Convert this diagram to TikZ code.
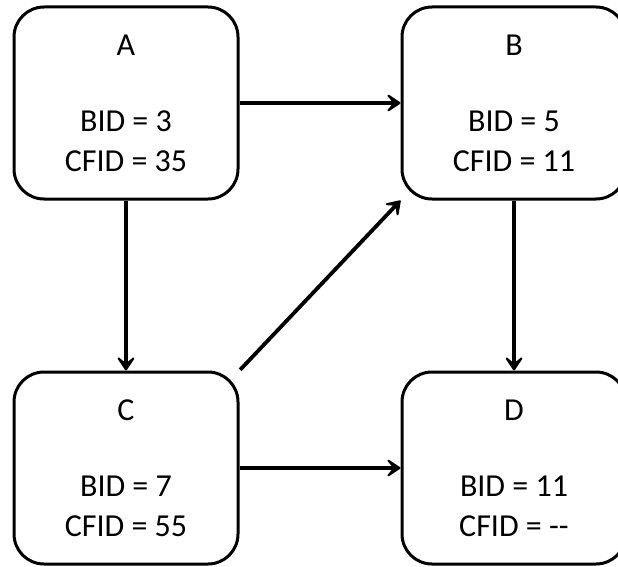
\documentclass[tikz,border=0pt]{standalone}
\usepackage{fontspec}
\setmainfont{Carlito}
\usetikzlibrary{arrows.meta}
\begin{document}
\begin{tikzpicture}[x=1pt,y=-1pt,
  block/.style={draw, line width=3pt, rounded corners=30pt,
    minimum width=224pt, minimum height=192pt, inner sep=0pt,
    align=center, font=\fontsize{32}{40}\selectfont},
  link/.style={line width=3.8pt,
    -{Stealth[length=18pt,width=24pt,inset=10pt,round]}}]
  \useasboundingbox (0,0) rectangle (618,567);
  \clip (0,0) rectangle (618,567);

  % four blocks
  \node[block] (A) at (126,103) {A\\[36pt]BID = 3\\CFID = 35};
  \node[block] (B) at (514,103) {B\\[36pt]BID = 5\\CFID = 11};
  \node[block] (C) at (126,468) {C\\[36pt]BID = 7\\CFID = 55};
  \node[block] (D) at (514,468) {D\\[36pt]BID = 11\\CFID = {-}{-}};

  % edges between blocks
  \draw[link] (A.east) -- (B.west);
  \draw[link] (A.south) -- (C.north);
  \draw[link] (B.south) -- (D.north);
  \draw[link, shorten <=1pt] (C.north east) -- (B.south west);
  \draw[link] (C.east) -- (D.west);
\end{tikzpicture}
\end{document}
